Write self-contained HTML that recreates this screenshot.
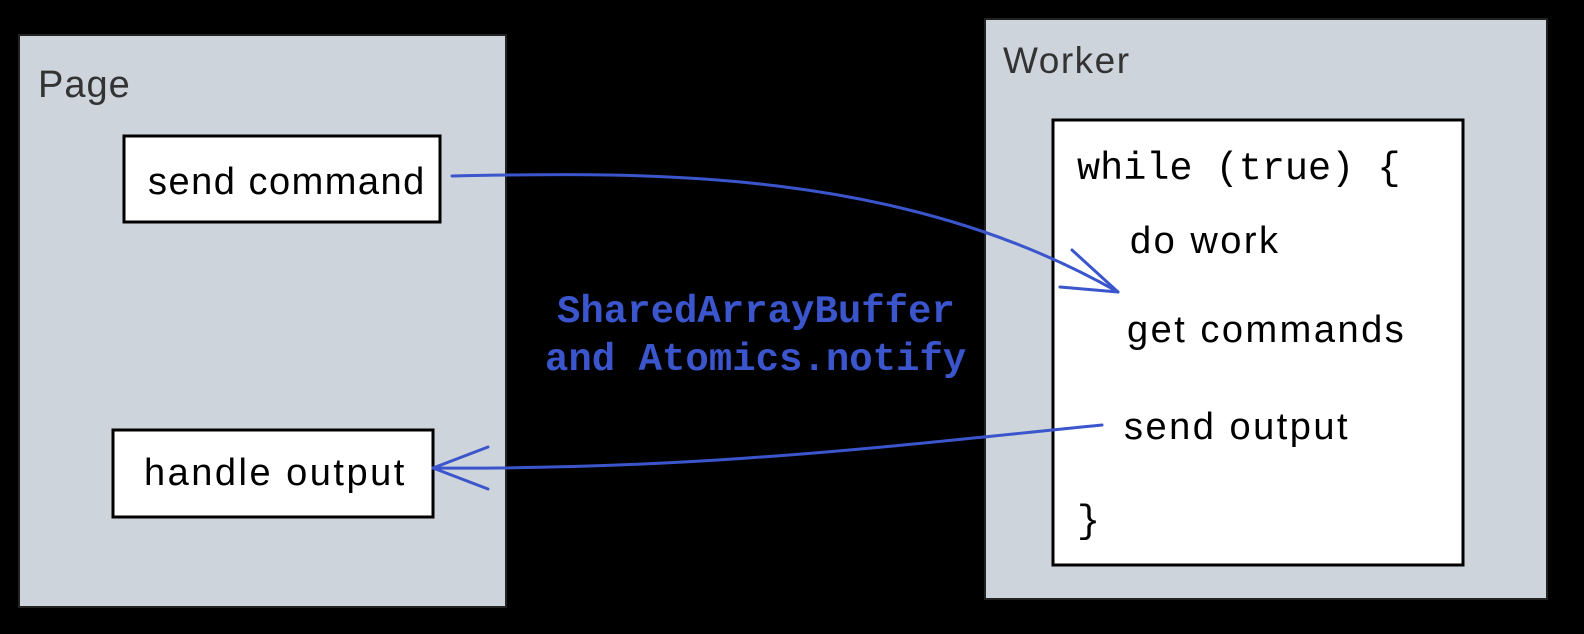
<!DOCTYPE html>
<html><head><style>
html,body{margin:0;padding:0;background:#000;}
svg{display:block}
.h{font-family:"Liberation Sans",sans-serif;fill:#000}
</style></head><body>
<svg width="1584" height="634" viewBox="0 0 1584 634" xmlns="http://www.w3.org/2000/svg">
<rect x="0" y="0" width="1584" height="634" fill="#000"/>
<!-- Page panel -->
<rect x="19" y="35" width="487" height="572" fill="#ced4dc" stroke="#222" stroke-width="2"/>
<text x="38" y="97" class="h" font-size="38" letter-spacing="1" style="fill:#333">Page</text>
<rect x="124" y="136" width="316" height="86" fill="#fff" stroke="#000" stroke-width="3"/>
<text x="148" y="194" class="h" font-size="38" letter-spacing="1.5">send command</text>
<rect x="113" y="430" width="320" height="87" fill="#fff" stroke="#000" stroke-width="3"/>
<text x="144" y="485" class="h" font-size="38" letter-spacing="2.5">handle output</text>
<!-- Worker panel -->
<rect x="985" y="19" width="562" height="580" fill="#ced4dc" stroke="#222" stroke-width="2"/>
<text x="1003" y="73" class="h" font-size="37" letter-spacing="1.5" style="fill:#333">Worker</text>
<rect x="1053" y="120" width="410" height="445" fill="#fff" stroke="#000" stroke-width="3"/>
<text x="1077" y="179" font-family="Liberation Mono,monospace" font-size="38.5" fill="#000">while (true) {</text>
<text x="1130" y="253" class="h" font-size="38" letter-spacing="2.5">do work</text>
<text x="1127" y="342" class="h" font-size="38" letter-spacing="2.5">get commands</text>
<text x="1124" y="439" class="h" font-size="38" letter-spacing="2.5">send output</text>
<text x="1077" y="532" font-family="Liberation Mono,monospace" font-size="38.5" fill="#000">}</text>
<!-- arrows -->
<g stroke="#3b55cc" stroke-width="3" fill="none" stroke-linecap="round">
<path d="M452 176 C 650 172, 900 168, 1118 292"/>
<path d="M1118 292 L1072 250 M1118 292 L1060 287"/>
<path d="M1102 425 C 900 445, 700 470, 433 468"/>
<path d="M433 468 L488 447 M433 468 L488 489"/>
</g>
<text x="557" y="322" font-family="Liberation Mono,monospace" font-weight="bold" font-size="39" fill="#3b55cc">SharedArrayBuffer</text>
<text x="545" y="370" font-family="Liberation Mono,monospace" font-weight="bold" font-size="39" fill="#3b55cc">and Atomics.notify</text>
</svg>
</body></html>
